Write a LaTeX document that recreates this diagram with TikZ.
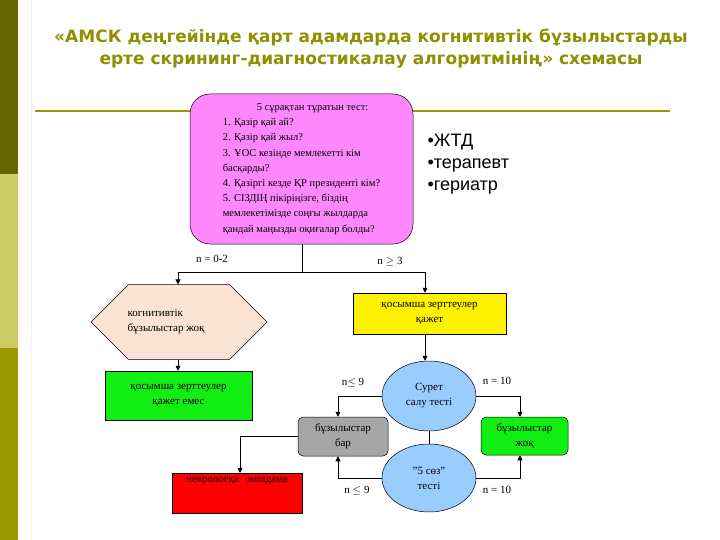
\documentclass[tikz,border=0pt]{standalone}
\usepackage{fontspec}
\setmainfont{Liberation Serif}
\newfontfamily\titlef{DejaVu Sans}
\newfontfamily\bulf{Liberation Sans}
\usetikzlibrary{shapes.geometric,shapes.misc,arrows.meta}
\definecolor{olivedark}{HTML}{666600}
\definecolor{olivelight}{HTML}{CCCC66}
\definecolor{olivemid}{HTML}{999900}
\definecolor{titlecol}{HTML}{8F8F00}
\definecolor{pinkf}{HTML}{FF88FF}
\definecolor{peach}{HTML}{FBE4D5}
\definecolor{greenf}{HTML}{11EE11}
\definecolor{bluef}{HTML}{99CCFF}
\definecolor{grayf}{HTML}{A6A6A6}
\tikzset{
 box/.style={draw=black, line width=0.5pt, inner sep=1pt, align=center, font=\fontsize{11}{15}\selectfont},
 arr/.style={-{Triangle[length=5pt,width=5pt]}, line width=0.8pt},
 ln/.style={line width=0.8pt},
 lab/.style={font=\fontsize{11}{13}\selectfont}
}
\begin{document}
\begin{tikzpicture}[x=1pt,y=-1pt]
\useasboundingbox (0,0) rectangle (720,540);
\fill[white] (0,0) rectangle (720,540);
\fill[olivedark] (0,0) rectangle (18,174);
\fill[olivelight] (0,174) rectangle (18,348);
\fill[olivemid] (0,348) rectangle (18,540);
\draw[black!6, line width=1pt] (31,0) -- (31,540);
\node[font=\titlef\bfseries\fontsize{17}{22}\selectfont, text=titlecol, align=center] (title) at (371,49) {«АМСК деңгейінде қарт адамдарда когнитивтік бұзылыстарды\\ерте скрининг-диагностикалау алгоритмінің» схемасы};
\draw[olivemid, line width=1.5pt] (35,111) -- (670,111);
\node[box, fill=pinkf, rounded corners=20pt, minimum width=223pt, minimum height=150pt, align=left, font=\fontsize{10.5}{15.2}\selectfont] (test) at (301.5,169) {\hspace*{34pt}5 сұрақтан тұратын тест:\\ 1. Қазір қай ай?\\ 2. Қазір қай жыл?\\ 3. ҰОС кезінде мемлекетті кім\\ басқарды?\\ 4. Қазіргі кезде ҚР президенті кім?\\ 5. СІЗДІҢ пікіріңізге, біздің\\ мемлекетімізде соңғы жылдарда\\ қандай маңызды оқиғалар болды?};
\node[font=\bulf\fontsize{18}{22}\selectfont, align=left, anchor=north west] (spec) at (424,131) {•ЖТД\\•терапевт\\•гериатр};
\coordinate (split) at (302,272);
\coordinate (sl) at (178,272);
\coordinate (sr) at (425,272);
\coordinate (cx) at (338,0);
\coordinate (cy) at (520,0);
\coordinate (cz) at (240,0);
\node[box, fill=peach, chamfered rectangle, chamfered rectangle xsep=22pt, chamfered rectangle ysep=25pt, minimum width=176pt, minimum height=50pt, inner sep=0pt, align=left] (hex) at (179,322) {когнитивтік\\бұзылыстар жоқ\hspace*{26pt}};
\node[box, fill=greenf, minimum width=147pt, minimum height=49pt] (g1) at (178.5,395.5) {қосымша зерттеулер\\қажет емес};
\node[box, fill=yellow, minimum width=153pt, minimum height=41pt] (yel) at (429.5,313.5) {қосымша зерттеулер\\қажет};
\node[box, ellipse, fill=bluef, minimum width=94pt, minimum height=70pt, inner sep=0pt] (e1) at (429,396) {Сурет\\салу тесті};
\node[box, ellipse, fill=bluef, minimum width=94pt, minimum height=68pt, inner sep=0pt] (e2) at (429,478) {"5 сөз"\\тесті};
\node[box, fill=grayf, rounded corners=5pt, minimum width=90pt, minimum height=39pt] (gray) at (343,436.5) {бұзылыстар\\бар};
\node[box, fill=greenf, rounded corners=5pt, minimum width=87pt, minimum height=38pt] (g2) at (524.5,436) {бұзылыстар\\жоқ};
\node[box, fill=red, minimum width=130pt, minimum height=40pt, anchor=north] (red) at (237,473) {неврологқа\hspace{6pt} жолдама\\[12pt]};
\draw[ln] (test.south -| split) -- (split);
\draw[ln] (sl) -- (sr);
\draw[arr] (sl) -- (hex.north -| sl);
\draw[arr] (sr) -- (yel.north -| sr);
\draw[arr] (hex.south -| sl) -- (g1.north -| sl);
\draw[arr] (yel.south -| sr) -- (e1.north -| sr);
\draw[ln] (e1.south) -- (e2.north);
\draw[arr] (e1.west) -| (gray.north -| cx);
\draw[arr] (e2.west) -| (gray.south -| cx);
\draw[arr] (e1.east) -| (g2.north -| cy);
\draw[arr] (e2.east) -| (g2.south -| cy);
\draw[arr] (gray.west) -| (red.north -| cz);
\node[lab] (l1) at (212,259) {n = 0-2};
\node[lab] (l2) at (390,262) {n $\geq$ 3};
\node[lab] (l3) at (353,383) {n$\leq$ 9};
\node[lab] (l4) at (497,381) {n = 10};
\node[lab] (l5) at (357,491) {n $\leq$ 9};
\node[lab] (l6) at (497,490) {n = 10};
\end{tikzpicture}
\end{document}
